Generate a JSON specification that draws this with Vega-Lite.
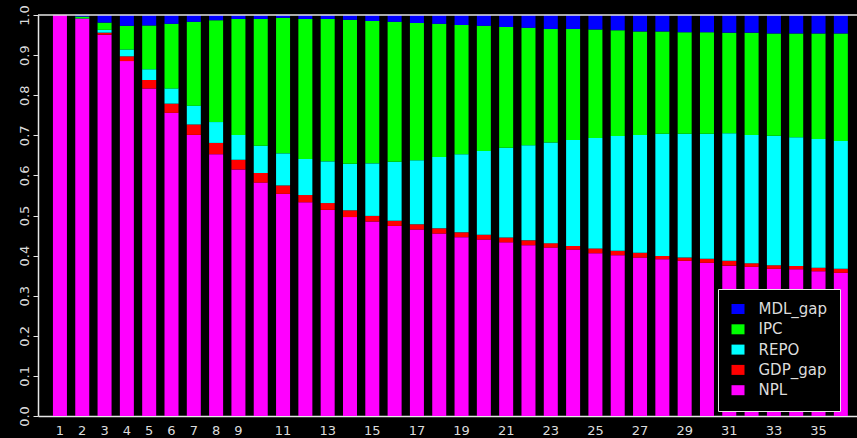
{
  "$schema": "https://vega.github.io/schema/vega-lite/v6.json",
  "width": 819,
  "height": 401,
  "autosize": "none",
  "padding": {"left": 38, "top": 15, "right": 0, "bottom": 22},
  "background": "#000000",
  "config": {
    "view": {"stroke": null},
    "font": "DejaVu Sans"
  },
  "layer": [
    {
      "data": {
        "values": [
          {"h": 1, "NPL": 1.000, "GDP_gap": 0.000, "REPO": 0.000, "IPC": 0.000, "MDL_gap": 0.000},
          {"h": 2, "NPL": 0.990, "GDP_gap": 0.001, "REPO": 0.001, "IPC": 0.004, "MDL_gap": 0.004},
          {"h": 3, "NPL": 0.951, "GDP_gap": 0.005, "REPO": 0.007, "IPC": 0.018, "MDL_gap": 0.019},
          {"h": 4, "NPL": 0.885, "GDP_gap": 0.012, "REPO": 0.017, "IPC": 0.059, "MDL_gap": 0.027},
          {"h": 5, "NPL": 0.817, "GDP_gap": 0.021, "REPO": 0.027, "IPC": 0.109, "MDL_gap": 0.026},
          {"h": 6, "NPL": 0.756, "GDP_gap": 0.023, "REPO": 0.038, "IPC": 0.161, "MDL_gap": 0.022},
          {"h": 7, "NPL": 0.701, "GDP_gap": 0.026, "REPO": 0.047, "IPC": 0.209, "MDL_gap": 0.017},
          {"h": 8, "NPL": 0.653, "GDP_gap": 0.028, "REPO": 0.052, "IPC": 0.254, "MDL_gap": 0.013},
          {"h": 9, "NPL": 0.615, "GDP_gap": 0.024, "REPO": 0.062, "IPC": 0.289, "MDL_gap": 0.010},
          {"h": 10, "NPL": 0.582, "GDP_gap": 0.024, "REPO": 0.068, "IPC": 0.316, "MDL_gap": 0.010},
          {"h": 11, "NPL": 0.554, "GDP_gap": 0.021, "REPO": 0.080, "IPC": 0.338, "MDL_gap": 0.007},
          {"h": 12, "NPL": 0.533, "GDP_gap": 0.018, "REPO": 0.090, "IPC": 0.349, "MDL_gap": 0.010},
          {"h": 13, "NPL": 0.514, "GDP_gap": 0.017, "REPO": 0.104, "IPC": 0.355, "MDL_gap": 0.010},
          {"h": 14, "NPL": 0.496, "GDP_gap": 0.017, "REPO": 0.116, "IPC": 0.359, "MDL_gap": 0.012},
          {"h": 15, "NPL": 0.485, "GDP_gap": 0.014, "REPO": 0.131, "IPC": 0.355, "MDL_gap": 0.015},
          {"h": 16, "NPL": 0.474, "GDP_gap": 0.013, "REPO": 0.147, "IPC": 0.349, "MDL_gap": 0.017},
          {"h": 17, "NPL": 0.465, "GDP_gap": 0.013, "REPO": 0.160, "IPC": 0.342, "MDL_gap": 0.020},
          {"h": 18, "NPL": 0.455, "GDP_gap": 0.013, "REPO": 0.178, "IPC": 0.332, "MDL_gap": 0.022},
          {"h": 19, "NPL": 0.446, "GDP_gap": 0.012, "REPO": 0.195, "IPC": 0.322, "MDL_gap": 0.025},
          {"h": 20, "NPL": 0.440, "GDP_gap": 0.012, "REPO": 0.209, "IPC": 0.312, "MDL_gap": 0.027},
          {"h": 21, "NPL": 0.433, "GDP_gap": 0.012, "REPO": 0.224, "IPC": 0.301, "MDL_gap": 0.030},
          {"h": 22, "NPL": 0.426, "GDP_gap": 0.012, "REPO": 0.237, "IPC": 0.293, "MDL_gap": 0.032},
          {"h": 23, "NPL": 0.420, "GDP_gap": 0.011, "REPO": 0.251, "IPC": 0.283, "MDL_gap": 0.035},
          {"h": 24, "NPL": 0.415, "GDP_gap": 0.009, "REPO": 0.264, "IPC": 0.277, "MDL_gap": 0.035},
          {"h": 25, "NPL": 0.406, "GDP_gap": 0.012, "REPO": 0.275, "IPC": 0.271, "MDL_gap": 0.036},
          {"h": 26, "NPL": 0.401, "GDP_gap": 0.011, "REPO": 0.286, "IPC": 0.264, "MDL_gap": 0.038},
          {"h": 27, "NPL": 0.395, "GDP_gap": 0.012, "REPO": 0.294, "IPC": 0.258, "MDL_gap": 0.041},
          {"h": 28, "NPL": 0.391, "GDP_gap": 0.008, "REPO": 0.305, "IPC": 0.255, "MDL_gap": 0.041},
          {"h": 29, "NPL": 0.387, "GDP_gap": 0.008, "REPO": 0.309, "IPC": 0.253, "MDL_gap": 0.043},
          {"h": 30, "NPL": 0.382, "GDP_gap": 0.010, "REPO": 0.312, "IPC": 0.253, "MDL_gap": 0.043},
          {"h": 31, "NPL": 0.375, "GDP_gap": 0.012, "REPO": 0.318, "IPC": 0.251, "MDL_gap": 0.044},
          {"h": 32, "NPL": 0.372, "GDP_gap": 0.009, "REPO": 0.320, "IPC": 0.255, "MDL_gap": 0.044},
          {"h": 33, "NPL": 0.367, "GDP_gap": 0.009, "REPO": 0.323, "IPC": 0.255, "MDL_gap": 0.046},
          {"h": 34, "NPL": 0.366, "GDP_gap": 0.008, "REPO": 0.321, "IPC": 0.259, "MDL_gap": 0.046},
          {"h": 35, "NPL": 0.361, "GDP_gap": 0.009, "REPO": 0.321, "IPC": 0.263, "MDL_gap": 0.046},
          {"h": 36, "NPL": 0.357, "GDP_gap": 0.010, "REPO": 0.319, "IPC": 0.268, "MDL_gap": 0.046}
        ]
      },
      "transform": [
        {"fold": ["NPL", "GDP_gap", "REPO", "IPC", "MDL_gap"], "as": ["s", "v"]},
        {"calculate": "indexof(['NPL','GDP_gap','REPO','IPC','MDL_gap'], datum.s)", "as": "k"}
      ],
      "mark": {"type": "bar", "strokeWidth": 0},
      "encoding": {
        "x": {
          "field": "h",
          "type": "ordinal",
          "scale": {"paddingInner": 0.3725, "paddingOuter": 0.54, "align": 0.62},
          "axis": {
            "title": null,
            "ticks": false,
            "tickSize": 0,
            "labelAngle": 0,
            "labelOverlap": false,
            "labelExpr": "datum.value <= 9 || datum.value % 2 == 1 ? datum.label : ''",
            "labelFontSize": 13,
            "labelColor": "#dcdcdc",
            "labelBaseline": "alphabetic",
            "labelPadding": 18,
            "domainColor": "#e6e6e6",
            "domainWidth": 1.5
          }
        },
        "y": {
          "field": "v",
          "type": "quantitative",
          "stack": "zero",
          "scale": {"domain": [0, 1], "nice": false},
          "axis": {
            "title": null,
            "values": [0, 0.1, 0.2, 0.3, 0.4, 0.5, 0.6, 0.7, 0.8, 0.9, 1.0],
            "format": ".1f",
            "grid": false,
            "labelAngle": -90,
            "labelAlign": "center",
            "labelBaseline": "alphabetic",
            "labelPadding": 5,
            "labelFontSize": 13,
            "labelColor": "#dcdcdc",
            "tickSize": 5,
            "tickColor": "#e6e6e6",
            "domainColor": "#e6e6e6",
            "domainWidth": 1.5
          }
        },
        "order": {"field": "k", "type": "quantitative", "sort": "ascending"},
        "color": {
          "field": "s",
          "type": "nominal",
          "scale": {
            "domain": ["NPL", "GDP_gap", "REPO", "IPC", "MDL_gap"],
            "range": ["#ff00ff", "#ff0000", "#00ffff", "#00ff00", "#0000ff"]
          },
          "legend": {
            "title": null,
            "orient": "none",
            "legendX": 680,
            "legendY": 274,
            "values": ["MDL_gap", "IPC", "REPO", "GDP_gap", "NPL"],
            "padding": 12.5,
            "strokeColor": "#e6e6e6",
            "fillColor": "#000000",
            "symbolType": "M-1.3,-1H1.3V1H-1.3Z",
            "symbolSize": 100,
            "symbolStrokeWidth": 0,
            "labelFontSize": 15,
            "labelColor": "#dcdcdc",
            "labelOffset": 13,
            "rowPadding": 4.3
          }
        }
      }
    },
    {
      "data": {"values": [{"top": 1}]},
      "mark": {"type": "rule", "color": "#e6e6e6", "strokeWidth": 1.5},
      "encoding": {"y": {"field": "top", "type": "quantitative"}}
    }
  ]
}
